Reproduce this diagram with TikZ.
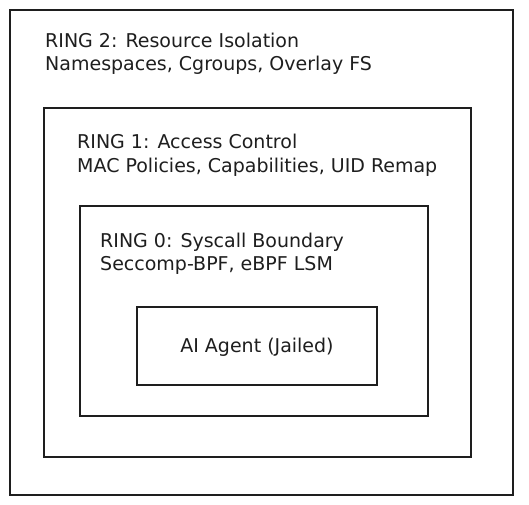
\documentclass[tikz,border=0pt]{standalone}
\usepackage{fontspec}
\setmainfont{DejaVu Sans}
\definecolor{ink}{HTML}{1E1E1E}
\begin{document}
\begin{tikzpicture}[x=1pt,y=-1pt,
  ring/.style={draw=ink, line width=1.6pt, inner sep=0pt, fill=white},
  lbl/.style={anchor=base west, inner sep=0pt, text=ink, font=\fontsize{19}{23}\selectfont},
  agent/.style={anchor=base, inner sep=0pt, text=ink, font=\fontsize{19}{23}\selectfont}]
\fill[white] (0,0) rectangle (529,504);
\useasboundingbox (0,0) rectangle (529,504);
\node[ring, minimum width=503pt, minimum height=485pt] (r2) at (261.5,252.5) {};
\node[ring, minimum width=427pt, minimum height=349pt] (r1) at (257.5,282.5) {};
\node[ring, minimum width=348pt, minimum height=210pt] (r0) at (254,311) {};
\node[ring, minimum width=240pt, minimum height=78pt] (ag) at (257,346) {};
\node[lbl] (r2a) at (45,47) {RING 2: Resource Isolation};
\node[lbl] (r2b) at (45,70.5) {Namespaces, Cgroups, Overlay FS};
\node[lbl] (r1a) at (77,148) {RING 1: Access Control};
\node[lbl] (r1b) at (77,172) {MAC Policies, Capabilities, UID Remap};
\node[lbl] (r0a) at (100,247) {RING 0: Syscall Boundary};
\node[lbl] (r0b) at (100,270) {Seccomp-BPF, eBPF LSM};
\node[agent] (agt) at (257,352) {AI Agent (Jailed)};
\end{tikzpicture}
\end{document}
